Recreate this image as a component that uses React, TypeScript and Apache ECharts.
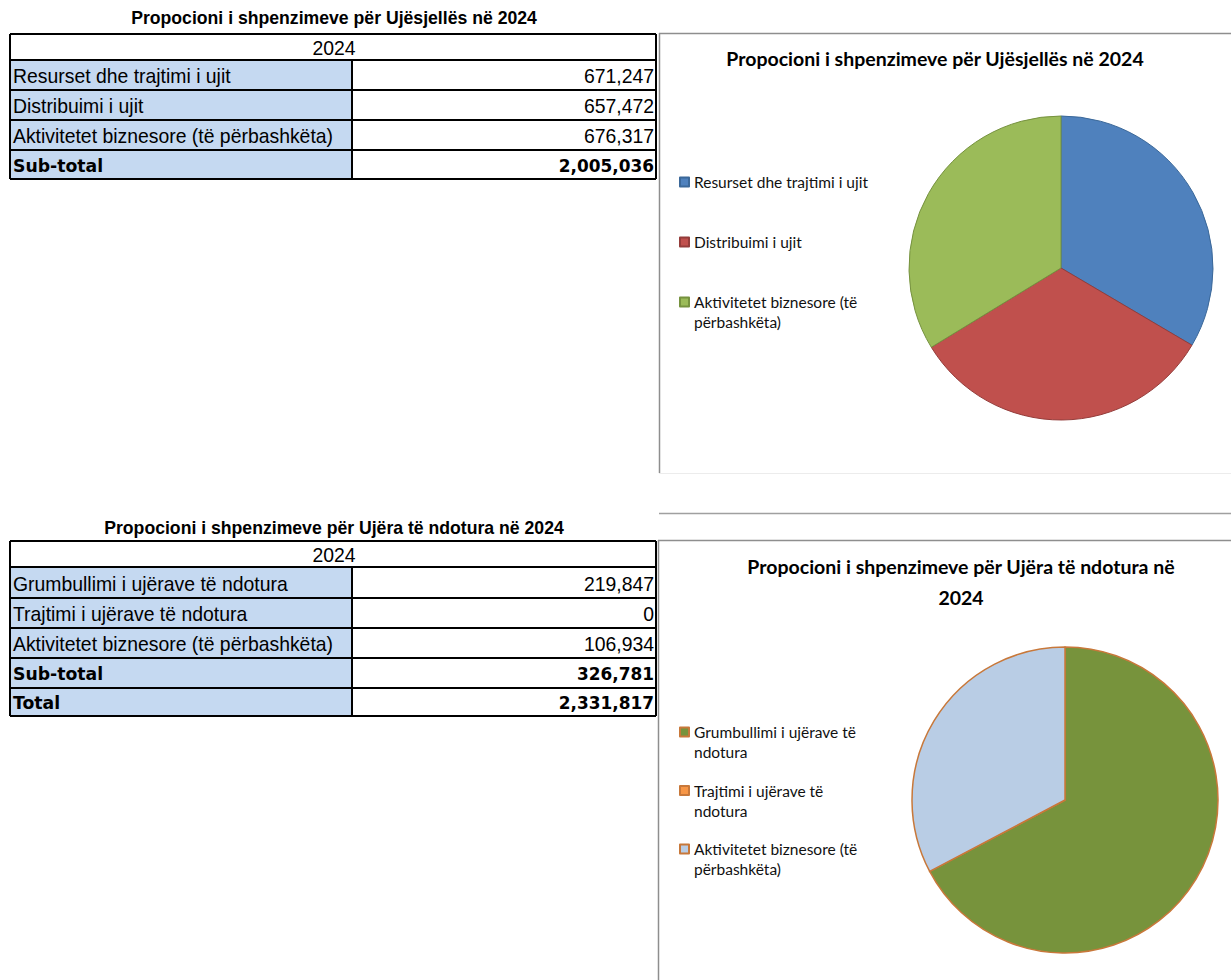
import React, { useEffect, useRef } from "react";
import * as echarts from "echarts";

// ---------- data ----------
const YEAR = "2024";
const waterTitle = "Propocioni i shpenzimeve për Ujësjellës në 2024";
const wasteTitle = "Propocioni i shpenzimeve për Ujëra të ndotura në 2024";
const waterCategories = [
  "Resurset dhe trajtimi i ujit",
  "Distribuimi i ujit",
  "Aktivitetet biznesore (të përbashkëta)",
];
const waterValues = [671247, 657472, 676317];
const wasteCategories = [
  "Grumbullimi i ujërave të ndotura",
  "Trajtimi i ujërave të ndotura",
  "Aktivitetet biznesore (të përbashkëta)",
];
const wasteValues = [219847, 0, 106934];
const subTotalLabel = "Sub-total";
const totalLabel = "Total";

// ---------- styles ----------
const waterColors = ["#4F81BD", "#C0504D", "#9BBB59"];
const waterBorders = ["#3B6899", "#943C3A", "#76923F"];
const wasteColors = ["#77933C", "#F79646", "#B9CDE5"];
const wasteBorder = "#C8783A";
const cellBlue = "#C5D9F1";

const fmt = (v: number) => v.toLocaleString("en-US");
const sum = (a: number[]) => a.reduce((s, v) => s + v, 0);

function wrapWords(text: string, maxChars: number): string[] {
  const words = text.split(" ");
  const lines: string[] = [];
  let cur = "";
  for (const w of words) {
    const next = cur ? cur + " " + w : w;
    if (next.length > maxChars && cur) {
      lines.push(cur);
      cur = w;
    } else cur = next;
  }
  if (cur) lines.push(cur);
  return lines;
}

const X0 = 10;
const XM = 352;
const X1 = 656;
const REG_FONT = '"Liberation Sans", Arial, sans-serif';
const BOLD_FONT = '"DejaVu Sans", Verdana, sans-serif';
const CHART_FONT = "Lato, sans-serif";

function tableElements(
  title: string,
  titleY: number,
  edges: number[],
  labels: string[],
  values: number[],
  boldFrom: number
): any[] {
  const els: any[] = [];
  const top = edges[0];
  const bottom = edges[edges.length - 1];
  els.push({
    type: "text",
    x: 334,
    y: titleY,
    scaleX: 0.98,
    style: {
      text: title,
      fontFamily: REG_FONT,
      fontWeight: "bold",
      fontSize: 18,
      fill: "#000",
      align: "center",
      verticalAlign: "middle",
    },
  });
  els.push({
    type: "text",
    x: 334,
    y: (edges[0] + edges[1]) / 2 + 1,
    scaleX: 0.97,
    style: {
      text: YEAR,
      fontFamily: REG_FONT,
      fontSize: 20,
      fill: "#000",
      align: "center",
      verticalAlign: "middle",
    },
  });
  for (let i = 0; i < labels.length; i++) {
    const y0 = edges[i + 1];
    const y1 = edges[i + 2];
    const mid = (y0 + y1) / 2 + 1;
    const bold = i >= boldFrom;
    els.push({
      type: "rect",
      shape: { x: X0, y: y0, width: XM - X0, height: y1 - y0 },
      style: { fill: cellBlue },
      z: 1,
    });
    els.push({
      type: "text",
      x: X0 + 3,
      y: mid,
      scaleX: bold ? 0.96 : 0.97,
      z: 3,
      style: {
        text: labels[i],
        fontFamily: bold ? BOLD_FONT : REG_FONT,
        fontWeight: bold ? "bold" : "normal",
        fontSize: bold ? 18 : 20,
        fill: "#000",
        align: "left",
        verticalAlign: "middle",
      },
    });
    els.push({
      type: "text",
      x: X1 - 2,
      y: mid,
      scaleX: bold ? 0.94 : 0.97,
      z: 3,
      style: {
        text: fmt(values[i]),
        fontFamily: bold ? BOLD_FONT : REG_FONT,
        fontWeight: bold ? "bold" : "normal",
        fontSize: bold ? 18 : 20,
        fill: "#000",
        align: "right",
        verticalAlign: "middle",
      },
    });
  }
  const lineStyle = { stroke: "#000", lineWidth: 2 };
  edges.forEach((y) => {
    els.push({
      type: "line",
      z: 4,
      shape: { x1: X0, y1: y, x2: X1, y2: y },
      style: lineStyle,
    });
  });
  els.push({ type: "line", z: 4, shape: { x1: X0, y1: top, x2: X0, y2: bottom }, style: lineStyle });
  els.push({ type: "line", z: 4, shape: { x1: X1, y1: top, x2: X1, y2: bottom }, style: lineStyle });
  els.push({ type: "line", z: 4, shape: { x1: XM, y1: edges[1], x2: XM, y2: bottom }, style: lineStyle });
  return els;
}

export default function App() {
  const ref = useRef<HTMLDivElement>(null);

  useEffect(() => {
    if (!ref.current) return;
    const chart = echarts.init(ref.current, undefined, { renderer: "svg" });

    const waterSub = sum(waterValues);
    const wasteSub = sum(wasteValues);
    const grand = waterSub + wasteSub;

    const labelMap: Record<string, string[]> = {};
    waterCategories.forEach((c, i) => (labelMap["water-" + i] = wrapWords(c, 28)));
    wasteCategories.forEach((c, i) => (labelMap["waste-" + i] = wrapWords(c, 25)));

    // Two-line legend labels get an empty leading line so that the (centred)
    // marker sits level with the first line of text, as in the original.
    const legendLabel = (name: string) => {
      const lines = labelMap[name] || [name];
      return lines.length > 1 ? "\n" + lines.join("\n") : lines[0];
    };

    const legendCommon = {
      orient: "vertical",
      padding: 0,
      itemWidth: 9,
      itemHeight: 9,
      icon: "rect",
      selectedMode: false,
      formatter: legendLabel,
      textStyle: {
        fontFamily: CHART_FONT,
        fontSize: 15.5,
        color: "#111",
        lineHeight: 20,
      },
    };

    const graphics: any[] = [
      ...tableElements(
        waterTitle,
        18,
        [34, 60, 90, 120, 150, 179],
        [...waterCategories, subTotalLabel],
        [...waterValues, waterSub],
        3
      ),
      ...tableElements(
        wasteTitle,
        528,
        [541, 567, 598, 628, 658, 688, 716],
        [...wasteCategories, subTotalLabel, totalLabel],
        [...wasteValues, wasteSub, grand],
        3
      ),
      // chart frames
      { type: "line", shape: { x1: 659.5, y1: 33, x2: 659.5, y2: 473 }, style: { stroke: "#8E8E8E", lineWidth: 1.5 } },
      { type: "line", shape: { x1: 659, y1: 33.5, x2: 1231, y2: 33.5 }, style: { stroke: "#8E8E8E", lineWidth: 1.5 } },
      { type: "line", shape: { x1: 659, y1: 473.5, x2: 1231, y2: 473.5 }, style: { stroke: "#ECECEC", lineWidth: 1 } },
      { type: "line", shape: { x1: 659, y1: 513.5, x2: 1231, y2: 513.5 }, style: { stroke: "#A0A0A0", lineWidth: 1.5 } },
      { type: "line", shape: { x1: 658.5, y1: 540, x2: 658.5, y2: 980 }, style: { stroke: "#8E8E8E", lineWidth: 1.5 } },
      { type: "line", shape: { x1: 658, y1: 540.5, x2: 1231, y2: 540.5 }, style: { stroke: "#8E8E8E", lineWidth: 1.5 } },
      // chart titles
      {
        type: "text",
        x: 935,
        y: 58,
        style: {
          text: waterTitle,
          fontFamily: CHART_FONT,
          fontWeight: "bold",
          fontSize: 19.5,
          fill: "#000",
          align: "center",
          verticalAlign: "middle",
        },
      },
      {
        type: "text",
        x: 961,
        y: 581.5,
        style: {
          text: wrapWords(wasteTitle, 48).join("\n"),
          fontFamily: CHART_FONT,
          fontWeight: "bold",
          fontSize: 19.5,
          lineHeight: 31,
          fill: "#000",
          align: "center",
          verticalAlign: "middle",
        },
      },
    ];

    chart.setOption({
      animation: false,
      backgroundColor: "#ffffff",
      legend: [
        { ...legendCommon, left: 679, top: 172, itemGap: 40, data: ["water-0", "water-1"] },
        { ...legendCommon, left: 679, top: 272, itemGap: 0, data: ["water-2"] },
        { ...legendCommon, left: 679, top: 702, itemGap: -1.5, data: wasteCategories.map((_, i) => "waste-" + i) },
      ],
      graphic: { elements: graphics },
      series: [
        {
          type: "pie",
          center: [1061, 268],
          radius: 152,
          startAngle: 90,
          clockwise: true,
          silent: true,
          label: { show: false },
          labelLine: { show: false },
          emphasis: { disabled: true },
          data: waterCategories.map((_, i) => ({
            name: "water-" + i,
            value: waterValues[i],
            itemStyle: { color: waterColors[i], borderColor: waterBorders[i], borderWidth: 1 },
          })),
        },
        {
          type: "pie",
          center: [1065, 800],
          radius: 153,
          startAngle: 90,
          clockwise: true,
          silent: true,
          label: { show: false },
          labelLine: { show: false },
          emphasis: { disabled: true },
          data: wasteCategories.map((_, i) => ({
            name: "waste-" + i,
            value: wasteValues[i],
            itemStyle: { color: wasteColors[i], borderColor: wasteBorder, borderWidth: 1.5 },
          })),
        },
      ],
    });

    return () => chart.dispose();
  }, []);

  return (
    <div
      ref={ref}
      style={{ position: "fixed", left: 0, top: 0, width: 1231, height: 980, background: "#fff" }}
    />
  );
}
